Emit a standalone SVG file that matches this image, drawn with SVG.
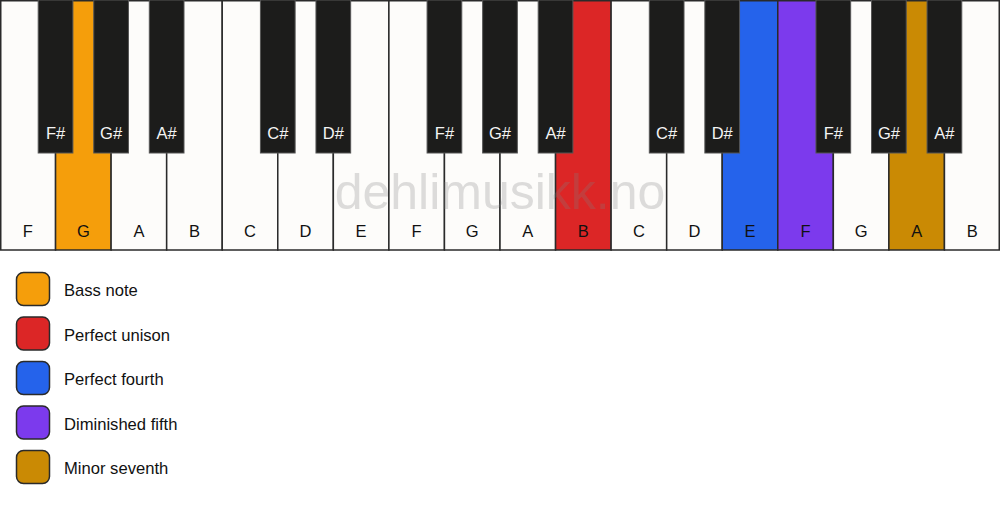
<svg xmlns="http://www.w3.org/2000/svg" width="1000" height="506" viewBox="0 0 1000 506">
<style>
.wk{fill:#fdfcfa;stroke:#2a2a2a;stroke-width:1.5}
.bk{fill:#1c1c1b;stroke:#555;stroke-width:1}
.wl{font-family:"Liberation Sans",Arial,sans-serif;font-size:16.5px;fill:#111;text-anchor:middle}
.bl{font-family:"Liberation Sans",Arial,sans-serif;font-size:16.5px;fill:#f4f4f4;text-anchor:middle}
.lg{stroke:#2a2a2a;stroke-width:1.5}
.lt{font-family:"Liberation Sans",Arial,sans-serif;font-size:16.6px;fill:#111}
.wm{font-family:"Liberation Sans",Arial,sans-serif;font-size:50px;fill:#808080;opacity:0.26;text-anchor:middle}
</style>
<rect width="1000" height="506" fill="#ffffff"/>
<g id="white-keys">
<g id="wk-F1"><rect class="wk" x="0.75" y="0.75" width="54.81" height="249.25"/><text class="wl" x="27.78" y="237">F</text></g>
<g id="wk-G1"><rect class="wk" x="55.56" y="0.75" width="55.55" height="249.25" style="fill:#f59e0b"/><text class="wl" x="83.33" y="237">G</text></g>
<g id="wk-A1"><rect class="wk" x="111.11" y="0.75" width="55.56" height="249.25"/><text class="wl" x="138.89" y="237">A</text></g>
<g id="wk-B1"><rect class="wk" x="166.67" y="0.75" width="55.55" height="249.25"/><text class="wl" x="194.44" y="237">B</text></g>
<g id="wk-C1"><rect class="wk" x="222.22" y="0.75" width="55.56" height="249.25"/><text class="wl" x="250" y="237">C</text></g>
<g id="wk-D1"><rect class="wk" x="277.78" y="0.75" width="55.55" height="249.25"/><text class="wl" x="305.56" y="237">D</text></g>
<g id="wk-E1"><rect class="wk" x="333.33" y="0.75" width="55.56" height="249.25"/><text class="wl" x="361.11" y="237">E</text></g>
<g id="wk-F2"><rect class="wk" x="388.89" y="0.75" width="55.55" height="249.25"/><text class="wl" x="416.67" y="237">F</text></g>
<g id="wk-G2"><rect class="wk" x="444.44" y="0.75" width="55.56" height="249.25"/><text class="wl" x="472.22" y="237">G</text></g>
<g id="wk-A2"><rect class="wk" x="500" y="0.75" width="55.56" height="249.25"/><text class="wl" x="527.78" y="237">A</text></g>
<g id="wk-B2"><rect class="wk" x="555.56" y="0.75" width="55.55" height="249.25" style="fill:#dc2626"/><text class="wl" x="583.33" y="237">B</text></g>
<g id="wk-C2"><rect class="wk" x="611.11" y="0.75" width="55.56" height="249.25"/><text class="wl" x="638.89" y="237">C</text></g>
<g id="wk-D2"><rect class="wk" x="666.67" y="0.75" width="55.55" height="249.25"/><text class="wl" x="694.44" y="237">D</text></g>
<g id="wk-E2"><rect class="wk" x="722.22" y="0.75" width="55.56" height="249.25" style="fill:#2563eb"/><text class="wl" x="750" y="237">E</text></g>
<g id="wk-F3"><rect class="wk" x="777.78" y="0.75" width="55.55" height="249.25" style="fill:#7c3aed"/><text class="wl" x="805.56" y="237">F</text></g>
<g id="wk-G3"><rect class="wk" x="833.33" y="0.75" width="55.56" height="249.25"/><text class="wl" x="861.11" y="237">G</text></g>
<g id="wk-A3"><rect class="wk" x="888.89" y="0.75" width="55.55" height="249.25" style="fill:#ca8a04"/><text class="wl" x="916.67" y="237">A</text></g>
<g id="wk-B3"><rect class="wk" x="944.44" y="0.75" width="54.81" height="249.25"/><text class="wl" x="972.22" y="237">B</text></g>
</g>
<text class="wm" x="500" y="209">dehlimusikk.no</text>
<g id="black-keys">
<g id="bk-Fs1"><rect class="bk" x="38.2" y="0" width="34.7" height="153"/><text class="bl" x="55.56" y="139">F#</text></g>
<g id="bk-Gs1"><rect class="bk" x="93.75" y="0" width="34.7" height="153"/><text class="bl" x="111.11" y="139">G#</text></g>
<g id="bk-As1"><rect class="bk" x="149.3" y="0" width="34.7" height="153"/><text class="bl" x="166.67" y="139">A#</text></g>
<g id="bk-Cs1"><rect class="bk" x="260.42" y="0" width="34.7" height="153"/><text class="bl" x="277.78" y="139">C#</text></g>
<g id="bk-Ds1"><rect class="bk" x="315.97" y="0" width="34.7" height="153"/><text class="bl" x="333.33" y="139">D#</text></g>
<g id="bk-Fs2"><rect class="bk" x="427.08" y="0" width="34.7" height="153"/><text class="bl" x="444.44" y="139">F#</text></g>
<g id="bk-Gs2"><rect class="bk" x="482.64" y="0" width="34.7" height="153"/><text class="bl" x="500" y="139">G#</text></g>
<g id="bk-As2"><rect class="bk" x="538.2" y="0" width="34.7" height="153"/><text class="bl" x="555.56" y="139">A#</text></g>
<g id="bk-Cs2"><rect class="bk" x="649.31" y="0" width="34.7" height="153"/><text class="bl" x="666.67" y="139">C#</text></g>
<g id="bk-Ds2"><rect class="bk" x="704.86" y="0" width="34.7" height="153"/><text class="bl" x="722.22" y="139">D#</text></g>
<g id="bk-Fs3"><rect class="bk" x="815.97" y="0" width="34.7" height="153"/><text class="bl" x="833.33" y="139">F#</text></g>
<g id="bk-Gs3"><rect class="bk" x="871.53" y="0" width="34.7" height="153"/><text class="bl" x="888.89" y="139">G#</text></g>
<g id="bk-As3"><rect class="bk" x="927.08" y="0" width="34.7" height="153"/><text class="bl" x="944.44" y="139">A#</text></g>
</g>
<g id="legend">
<g id="lg-bass"><rect class="lg" x="16.5" y="272.5" width="33" height="33" rx="7" fill="#f59e0b"/><text class="lt" x="64" y="296">Bass note</text></g>
<g id="lg-unison"><rect class="lg" x="16.5" y="317" width="33" height="33" rx="7" fill="#dc2626"/><text class="lt" x="64" y="340.5">Perfect unison</text></g>
<g id="lg-fourth"><rect class="lg" x="16.5" y="361.5" width="33" height="33" rx="7" fill="#2563eb"/><text class="lt" x="64" y="385">Perfect fourth</text></g>
<g id="lg-dim5"><rect class="lg" x="16.5" y="406" width="33" height="33" rx="7" fill="#7c3aed"/><text class="lt" x="64" y="429.5">Diminished fifth</text></g>
<g id="lg-min7"><rect class="lg" x="16.5" y="450.5" width="33" height="33" rx="7" fill="#ca8a04"/><text class="lt" x="64" y="474">Minor seventh</text></g>
</g>
<g id="connectors"/>
</svg>
